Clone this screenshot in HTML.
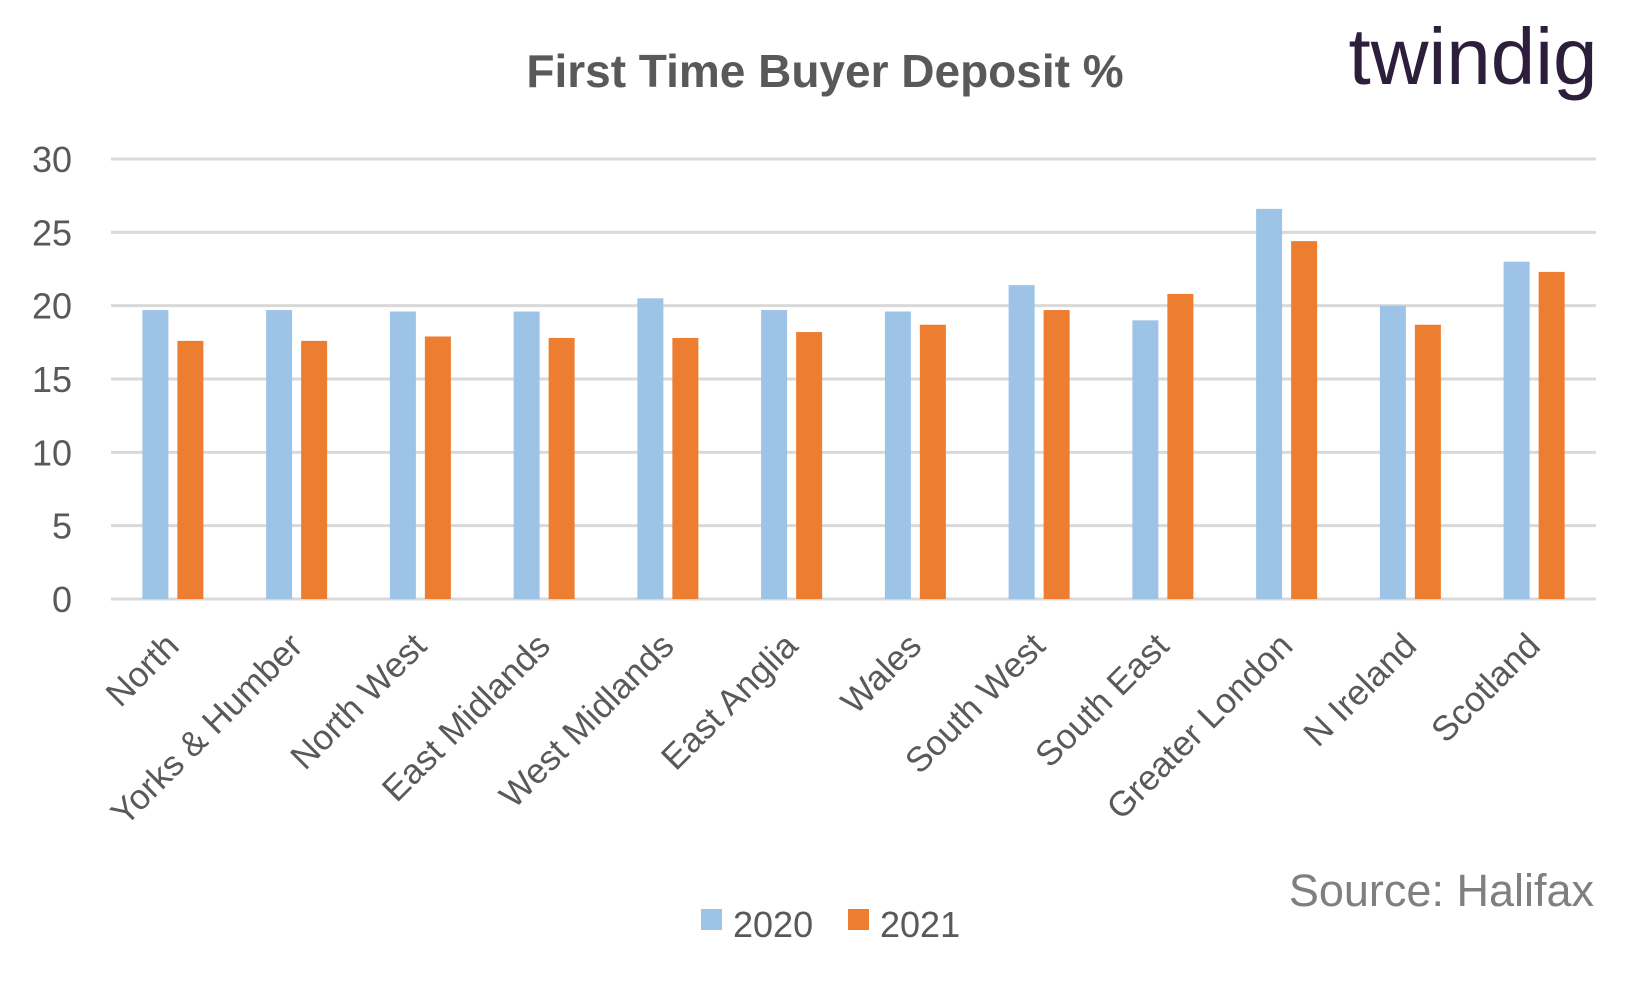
<!DOCTYPE html>
<html><head><meta charset="utf-8"><style>
body{margin:0;background:#fff;}
svg text{font-family:"Liberation Sans",sans-serif;}
</style></head><body>
<svg width="1650" height="991" xmlns="http://www.w3.org/2000/svg">
<text x="825" y="87" text-anchor="middle" font-size="46" font-weight="bold" fill="#595959">First Time Buyer Deposit %</text>
<text x="1473" y="84" text-anchor="middle" font-size="80" fill="#2d1e3c">twindig</text>
<text x="1594" y="906" text-anchor="end" font-size="45" fill="#7f7f7f">Source: Halifax</text>
<g id="grid"></g>
<g id="yt"></g>
<g id="bars"></g>
<g id="xt"></g>
<g>
<rect x="701" y="909" width="21" height="21" fill="#9dc3e6"/>
<text x="733" y="937" font-size="36" fill="#595959">2020</text>
<rect x="848" y="909" width="21" height="21" fill="#ed7d31"/>
<text x="880" y="937" font-size="36" fill="#595959">2021</text>
</g>
</svg>
<script>
const categories=["North","Yorks & Humber","North West","East Midlands","West Midlands","East Anglia","Wales","South West","South East","Greater London","N Ireland","Scotland"];
const values2020=[19.7,19.7,19.6,19.6,20.5,19.7,19.6,21.4,19.0,26.6,20.0,23.0];
const values2021=[17.6,17.6,17.9,17.8,17.8,18.2,18.7,19.7,20.8,24.4,18.7,22.3];
const yTicks=[0,5,10,15,20,25,30];
const NS="http://www.w3.org/2000/svg";
const L=111,R=1596,T=159,B=599;
const y=v=>B-(v/30)*(B-T);
const gw=(R-L)/categories.length;
const xc=i=>L+gw*(i+0.5);
function mk(t,a,p){const e=document.createElementNS(NS,t);for(const k in a)e.setAttribute(k,a[k]);p.appendChild(e);return e;}
const grid=document.getElementById('grid'),yt=document.getElementById('yt'),bars=document.getElementById('bars'),xt=document.getElementById('xt');
yTicks.forEach(v=>{
 const l=mk('line',{x1:L,x2:R,y1:y(v),y2:y(v),stroke:'#d9d9d9','stroke-width':3},grid);
 
 
 const t=mk('text',{x:72,y:y(v)+13,'text-anchor':'end','font-size':36,fill:'#595959'},yt);
 t.textContent=v;
 
 
});
const bw=26;
categories.forEach((c,i)=>{
 const cx=xc(i);
 const b1=mk('rect',{x:cx-17.5-bw/2,y:y(values2020[i]),width:bw,height:B-y(values2020[i]),fill:'#9dc3e6'},bars);
 
 
 const b2=mk('rect',{x:cx+17.5-bw/2,y:y(values2021[i]),width:bw,height:B-y(values2021[i]),fill:'#ed7d31'},bars);
 
 
 const t=mk('text',{x:cx+8,y:648,'text-anchor':'end','font-size':35,fill:'#595959',transform:`rotate(-45 ${cx+8} 648)`},xt);
 t.textContent=c;
 
 
});
</script>
</body></html>
